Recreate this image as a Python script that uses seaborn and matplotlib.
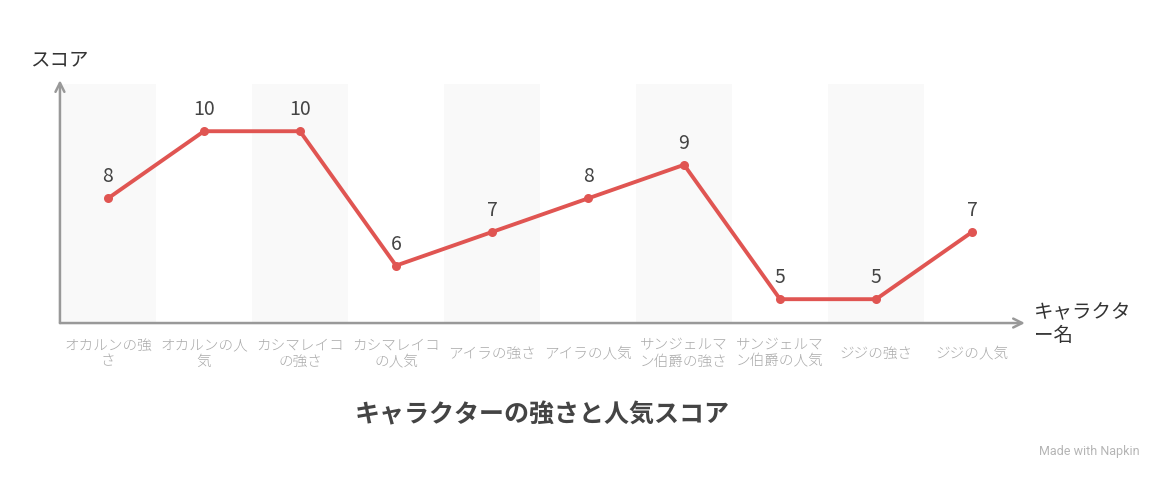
import numpy as np
import pandas as pd
import seaborn as sns
import matplotlib.pyplot as plt

# data
names = ['オカルンの強さ', 'オカルンの人気', 'カシマレイコの強さ', 'カシマレイコの人気',
         'アイラの強さ', 'アイラの人気', 'サンジェルマン伯爵の強さ', 'サンジェルマン伯爵の人気',
         'ジジの強さ', 'ジジの人気']
tick_labels = ['オカルンの強\nさ', 'オカルンの人\n気', 'カシマレイコ\nの強さ', 'カシマレイコ\nの人気',
               'アイラの強さ', 'アイラの人気', 'サンジェルマ\nン伯爵の強さ', 'サンジェルマ\nン伯爵の人気',
               'ジジの強さ', 'ジジの人気']
scores = [8, 10, 10, 6, 7, 8, 9, 5, 5, 7]

sns.set_style('white')
plt.rcParams['font.family'] = ['Noto Sans CJK JP', 'DejaVu Sans']

df = pd.DataFrame({'idx': np.arange(len(names)), 'name': names, 'score': scores})

fig = plt.figure(figsize=(11.64, 4.8), dpi=100)
ax = fig.add_axes([0.0515, 0.327, 0.829, 0.506])

ymin, ymax = 4.29, 11.52
band_top = 11.4
ax.set_xlim(-0.5, 9.55)
ax.set_ylim(ymin, ymax)

# alternating background bands
for i in range(0, len(names), 2):
    ax.axvspan(i - 0.5, i + 0.5, ymin=0, ymax=(band_top - ymin) / (ymax - ymin),
               color='#f9f9f9', zorder=0, lw=0)

sns.lineplot(data=df, x='idx', y='score', ax=ax, color='#e05552', lw=2.8,
             marker='o', markersize=6.5, markeredgewidth=0, zorder=3)

for i, v in zip(df['idx'], df['score']):
    ax.annotate(str(v), (i, v), xytext=(0, 15.5), textcoords='offset points',
                ha='center', va='center', fontsize=14, color='#444444')

for s in ax.spines.values():
    s.set_visible(False)

# axes with arrow heads
arrow = dict(arrowstyle='->', color='#999999', lw=1.8, mutation_scale=16,
             shrinkA=0, shrinkB=0)
ax.annotate('', xy=(1, 0), xytext=(0, 0), xycoords='axes fraction', arrowprops=arrow)
ax.annotate('', xy=(0, 1), xytext=(0, 0), xycoords='axes fraction', arrowprops=arrow)

ax.set_xticks(df['idx'])
ax.set_xticklabels(tick_labels, fontsize=10.5, color='#aaaaaa', va='center',
                   fontweight='light')
ax.tick_params(axis='x', length=0, pad=22)
ax.set_yticks([])
ax.set_xlabel('')
ax.set_ylabel('')

fig.text(30 / 1164, 1 - 60 / 480, 'スコア', fontsize=14, color='#333333',
         ha='left', va='center')
fig.text(1034 / 1164, 1 - 324 / 480, 'キャラクタ\nー名', fontsize=14, color='#333333',
         ha='left', va='center', linespacing=1.15)

fig.text(542 / 1164, 1 - 415 / 480, 'キャラクターの強さと人気スコア', fontsize=18,
         fontweight='bold', color='#444444', ha='center', va='center')
fig.text(1140 / 1164, 1 - 452 / 480, 'Made with Napkin', fontsize=9,
         color='#b5b5b5', ha='right', va='center', family=['Roboto', 'DejaVu Sans'])

fig.savefig('out.png', dpi=100, facecolor='white')
